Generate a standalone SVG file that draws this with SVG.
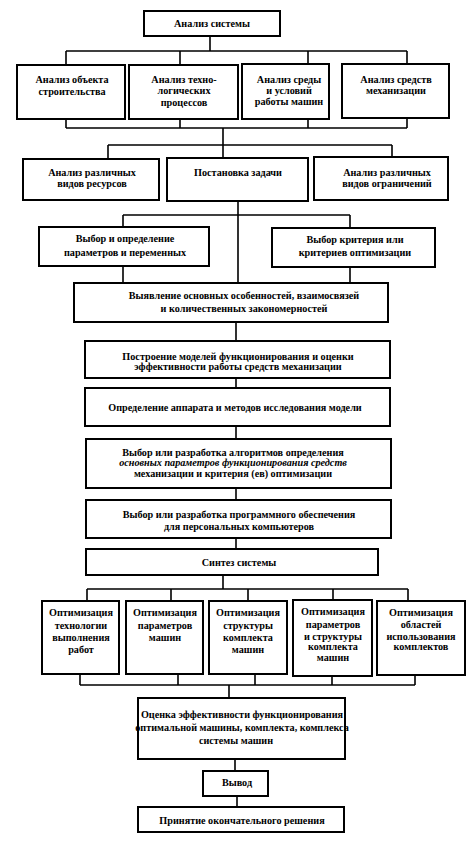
<svg xmlns="http://www.w3.org/2000/svg" width="475" height="841" viewBox="0 0 475 841">
<style>
.box{fill:#fff;stroke:#000;stroke-width:2}
.con{fill:none;stroke:#000;stroke-width:1.6}
text{font-family:"Liberation Serif","DejaVu Serif",serif;font-size:10.2px;font-weight:bold;text-anchor:middle;fill:#000}
.it{font-style:italic}
</style>
<rect width="475" height="841" fill="#fff"/>
<g id="connectors">
<path class="con" d="M210,36V51M66,51H407M66,51V65M180,51V65M308,51V64M407,51V64"/>
<path class="con" d="M66,119V128M180,119V128M308,119V128M407,118V128M66,128H407M223,128V158M108,145H392M108,145V159M392,145V157"/>
<path class="con" d="M238,201V283M123,215H350M123,215V227M350,215V228M123,266V283M350,267V283"/>
<path class="con" d="M236,322V341M236,378V388M236,426V439M236,488V500M236,538V549"/>
<path class="con" d="M223,575V589M87,589H408M87,589V601M171,589V601M248,589V601M333,589V601M408,589V601"/>
<path class="con" d="M80,674V685M178,674V685M255,674V685M332,676V685M415,675V685M80,685H415M229,685V698"/>
<path class="con" d="M235,759V771M237,796V807"/>
</g>
<g id="n1"><rect class="box" x="144" y="11" width="136" height="25"/><text x="212" y="27">Анализ системы</text></g>
<g id="n2"><rect class="box" x="17" y="65" width="108" height="54"/><text x="72" y="83">Анализ объекта</text><text x="72" y="95">строительства</text></g>
<g id="n3"><rect class="box" x="129" y="65" width="109" height="54"/><text x="184" y="83">Анализ техно-</text><text x="184" y="94">логических</text><text x="184" y="106">процессов</text></g>
<g id="n4"><rect class="box" x="242" y="64" width="87" height="55"/><text x="289" y="83">Анализ среды</text><text x="289" y="94">и условий</text><text x="289" y="105">работы машин</text></g>
<g id="n5"><rect class="box" x="342" y="64" width="107" height="54"/><text x="396" y="83">Анализ средств</text><text x="396" y="94">механизации</text></g>
<g id="n6"><rect class="box" x="23" y="159" width="136" height="41"/><text x="92" y="176">Анализ различных</text><text x="92" y="187">видов ресурсов</text></g>
<g id="n7"><rect class="box" x="167" y="158" width="141" height="43"/><text x="238" y="176">Постановка задачи</text></g>
<g id="n8"><rect class="box" x="314" y="157" width="134" height="43"/><text x="387" y="176">Анализ различных</text><text x="387" y="187">видов ограничений</text></g>
<g id="n9"><rect class="box" x="39" y="227" width="170" height="39"/><text x="125" y="242">Выбор и определение</text><text x="125" y="256">параметров и переменных</text></g>
<g id="n10"><rect class="box" x="272" y="228" width="163" height="39"/><text x="355" y="243">Выбор критерия или</text><text x="355" y="256">критериев оптимизации</text></g>
<g id="n11"><rect class="box" x="74" y="283" width="314" height="39"/><text x="244" y="299">Выявление основных особенностей, взаимосвязей</text><text x="244" y="312">и количественных закономерностей</text></g>
<g id="n12"><rect class="box" x="85" y="341" width="305" height="37"/><text x="238" y="360">Построение моделей функционирования и оценки</text><text x="238" y="370">эффективности работы средств механизации</text></g>
<g id="n13"><rect class="box" x="85" y="388" width="305" height="38"/><text x="235" y="411">Определение аппарата и методов исследования модели</text></g>
<g id="n14"><rect class="box" x="86" y="439" width="305" height="49"/><text x="233" y="456">Выбор или разработка алгоритмов определения</text><text class="it" x="233" y="466">основных параметров функционирования средств</text><text x="233" y="477">механизации и критерия (ев) оптимизации</text></g>
<g id="n15"><rect class="box" x="86" y="500" width="305" height="38"/><text x="239" y="518">Выбор или разработка программного обеспечения</text><text x="239" y="530">для персональных компьютеров</text></g>
<g id="n16"><rect class="box" x="86" y="549" width="292" height="26"/><text x="239" y="566">Синтез системы</text></g>
<g id="n17"><rect class="box" x="42" y="601" width="77" height="73"/><text x="81" y="616">Оптимизация</text><text x="81" y="629">технологии</text><text x="81" y="641">выполнения</text><text x="81" y="653">работ</text></g>
<g id="n18"><rect class="box" x="126" y="601" width="77" height="73"/><text x="165" y="616">Оптимизация</text><text x="165" y="629">параметров</text><text x="165" y="641">машин</text></g>
<g id="n19"><rect class="box" x="209" y="601" width="78" height="73"/><text x="248" y="616">Оптимизация</text><text x="248" y="629">структуры</text><text x="248" y="641">комплекта</text><text x="248" y="653">машин</text></g>
<g id="n20"><rect class="box" x="293" y="600" width="79" height="76"/><text x="333" y="615">Оптимизация</text><text x="333" y="628">параметров</text><text x="333" y="640">и структуры</text><text x="333" y="650">комплекта</text><text x="333" y="661">машин</text></g>
<g id="n21"><rect class="box" x="377" y="601" width="88" height="74"/><text x="421" y="616">Оптимизация</text><text x="421" y="628">областей</text><text x="421" y="640">использования</text><text x="421" y="650">комплектов</text></g>
<g id="n22"><rect class="box" x="138" y="698" width="207" height="61"/><text x="242" y="718">Оценка эффективности функционирования</text><text x="242" y="731">оптимальной машины, комплекта, комплекса</text><text x="236" y="744">системы машин</text></g>
<g id="n23"><rect class="box" x="203" y="771" width="65" height="25"/><text x="237" y="786">Вывод</text></g>
<g id="n24"><rect class="box" x="138" y="807" width="206" height="25"/><text x="242" y="824">Принятие окончательного решения</text></g>
</svg>
